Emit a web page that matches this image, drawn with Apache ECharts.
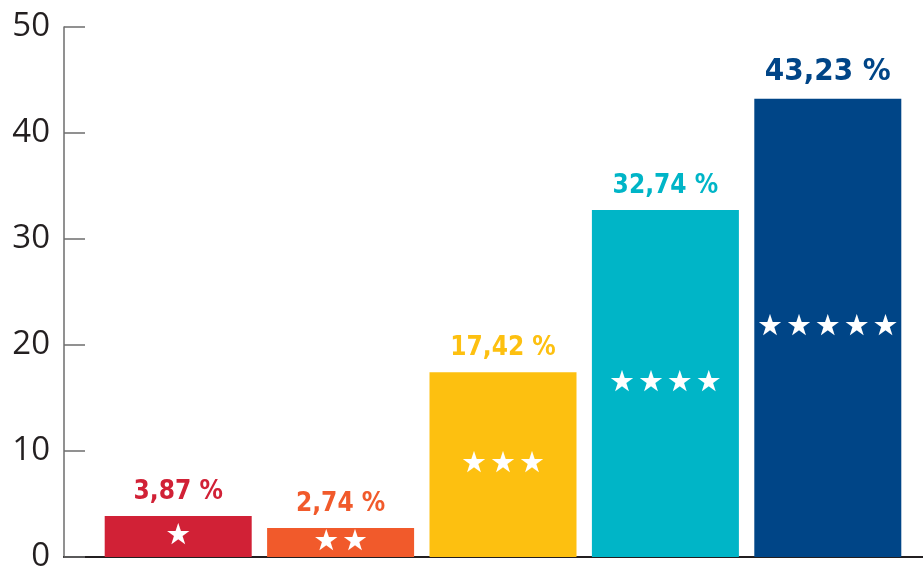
<!DOCTYPE html>
<html>
<head>
<meta charset="utf-8">
<script src="https://cdn.jsdelivr.net/npm/echarts@6/dist/echarts.min.js"></script>
<style>
  html, body { margin: 0; padding: 0; background: #fff; }
  #chart { width: 923px; height: 576px; }
</style>
</head>
<body>
<div id="chart"></div>
<script>
// notes (étoiles) et part des avis en %
var categories = ['★', '★\u200A★', '★\u200A★\u200A★', '★\u200A★\u200A★\u200A★', '★\u200A★\u200A★\u200A★\u200A★'];
var values = [3.87, 2.74, 17.42, 32.74, 43.23];
var colors = ['#d12136', '#f15a2b', '#fdc010', '#00b5c7', '#004587'];
var yTicks = [0, 10, 20, 30, 40, 50];

var chart = echarts.init(document.getElementById('chart'));

var fmt = function (v) {
  return v.toFixed(2).replace('.', ',') + ' %';
};

var barData = values.map(function (v, i) {
  return {
    value: v,
    itemStyle: { color: colors[i] },
    label: {
      color: colors[i],
      fontSize: i === values.length - 1 ? 31 : 26
    }
  };
});

var option = {
  animation: false,
  grid: [
    { left: 64, right: 0, top: 27, bottom: 19 },
    { left: 97, right: 14, top: 27, bottom: 19 }
  ],
  xAxis: [
    {
      gridIndex: 0, type: 'value', min: 0, max: 1,
      axisLine: { show: true, lineStyle: { color: '#231f20', width: 2 } },
      axisTick: { show: false }, axisLabel: { show: false },
      splitLine: { show: false }
    },
    {
      gridIndex: 1, type: 'category', data: categories,
      axisLine: { show: false }, axisTick: { show: false },
      axisLabel: { show: false }
    }
  ],
  yAxis: [
    {
      gridIndex: 0, type: 'value', min: yTicks[0], max: yTicks[yTicks.length - 1], interval: 10,
      axisLine: { show: true, lineStyle: { color: '#6d6d6d', width: 1.5 } },
      axisTick: { show: true, inside: true, length: 21, lineStyle: { color: '#6d6d6d', width: 1.5 } },
      axisLabel: { color: '#231f20', fontSize: 33, fontFamily: 'Open Sans', margin: 14 },
      splitLine: { show: false }
    },
    {
      gridIndex: 1, type: 'value', min: yTicks[0], max: yTicks[yTicks.length - 1],
      show: false, splitLine: { show: false }
    }
  ],
  series: [
    {
      type: 'bar',
      xAxisIndex: 1, yAxisIndex: 1,
      barWidth: 147,
      data: barData,
      label: {
        show: true,
        position: 'top',
        distance: 11,
        fontFamily: "'DejaVu Sans Condensed', 'Liberation Sans', sans-serif",
        fontWeight: 'bold',
        formatter: function (p) { return fmt(p.value); }
      }
    },
    {
      type: 'bar',
      xAxisIndex: 1, yAxisIndex: 1,
      barWidth: 147,
      barGap: '-100%',
      data: values,
      itemStyle: { color: 'rgba(0,0,0,0)' },
      label: {
        show: true,
        position: 'inside',
        color: '#fff',
        fontSize: 29,
        fontFamily: 'DejaVu Sans',
        formatter: function (p) { return p.name; }
      },
      silent: true
    }
  ]
};

chart.setOption(option);
</script>
</body>
</html>
